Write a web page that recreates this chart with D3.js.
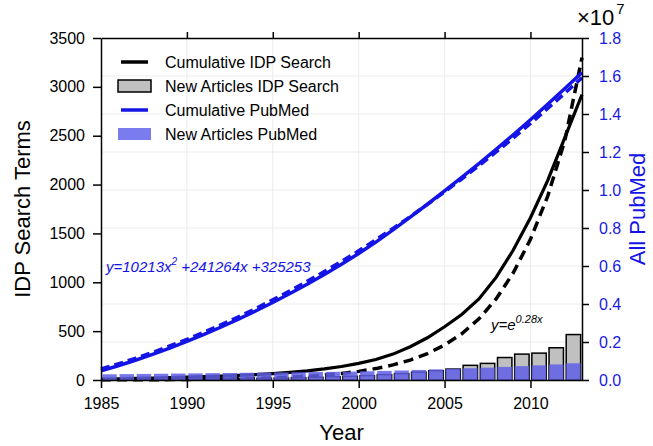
<!DOCTYPE html>
<html>
<head>
<meta charset="utf-8">
<script src="https://cdnjs.cloudflare.com/ajax/libs/d3/7.8.5/d3.min.js"></script>
<style>
  body { margin: 0; background: #fff; }
  svg { font-family: "Liberation Sans", Arial, sans-serif; }
  .grid line { stroke: #ececec; stroke-width: 1; }
  .axis path, .axis line { stroke: #000; stroke-width: 1.5; }
  .axis text { font-size: 16px; fill: #000; }
  .axis.right text { fill: #1a1ae6; }
</style>
</head>
<body>
<svg id="chart" width="653" height="446"></svg>
<script>
"use strict";

// yearly points of the cumulative curves
var years = [1985, 1986, 1987, 1988, 1989, 1990, 1991, 1992, 1993, 1994,
  1995, 1996, 1997, 1998, 1999, 2000, 2001, 2002, 2003, 2004,
  2005, 2006, 2007, 2008, 2009, 2010, 2011, 2012, 2013];
var idp_cumulative = [10, 13, 16, 20, 24, 29, 34, 40, 47, 55,
  65, 78, 94, 114, 138, 170, 210, 265, 340, 432,
  545, 670, 830, 1050, 1330, 1660, 2040, 2480, 2920];
var idp_fit = [1.3, 1.8, 2.3, 3.1, 4.1, 5.4, 7.1, 9.4, 12.4, 16.4,
  21.8, 28.8, 38.1, 50.4, 66.7, 88.2, 116.7, 154.5, 204, 270,
  358, 473, 626, 829, 1097, 1440, 1880, 2450, 3300];
// PubMed in units of 1e7
var pubmed_cumulative = [0.048, 0.075, 0.104, 0.135, 0.168, 0.203, 0.240, 0.279, 0.320, 0.363,
  0.408, 0.455, 0.504, 0.555, 0.609, 0.666, 0.726, 0.790, 0.857, 0.925,
  0.995, 1.066, 1.139, 1.214, 1.291, 1.370, 1.451, 1.534, 1.618];
var pubmed_fit = [0.058, 0.085, 0.114, 0.145, 0.179, 0.214, 0.252, 0.291, 0.332, 0.376,
  0.422, 0.469, 0.519, 0.571, 0.624, 0.680, 0.738, 0.798, 0.860, 0.924,
  0.990, 1.058, 1.128, 1.200, 1.274, 1.350, 1.429, 1.509, 1.591];

// new articles per year (bars)
var bar_years = [1985, 1986, 1987, 1988, 1989, 1990, 1991, 1992, 1993, 1994,
  1995, 1996, 1997, 1998, 1999, 2000, 2001, 2002, 2003, 2004,
  2005, 2006, 2007, 2008, 2009, 2010, 2011, 2012];
var idp_new = [5, 6, 7, 8, 9, 10, 12, 14, 16, 18,
  20, 24, 28, 33, 38, 45, 55, 65, 80, 95,
  112, 150, 170, 230, 265, 275, 330, 465];
var pubmed_new = [0.030, 0.031, 0.032, 0.033, 0.034, 0.035, 0.036, 0.037, 0.038, 0.039,
  0.040, 0.041, 0.042, 0.043, 0.044, 0.046, 0.048, 0.050, 0.053, 0.056,
  0.059, 0.062, 0.065, 0.069, 0.073, 0.077, 0.082, 0.088];

var x_ticks = [1985, 1990, 1995, 2000, 2005, 2010];
var left_ticks = [0, 500, 1000, 1500, 2000, 2500, 3000, 3500];
var right_ticks = [0, 0.2, 0.4, 0.6, 0.8, 1.0, 1.2, 1.4, 1.6, 1.8];

var BLUE = '#1414e6';
var BAR_BLUE = '#5f5fe6';

function draw_plot(svg) {
  var left = 101, right = 582, top = 38, bottom = 380;

  var X = d3.scaleLinear().domain([1985, 2013]).range([left, right]);
  var Y = d3.scaleLinear().domain([0, 3500]).range([bottom, top]);
  var Y2 = d3.scaleLinear().domain([0, 1.8]).range([bottom, top]);

  // grid
  var grid = svg.append('g').attr('class', 'grid');
  grid.selectAll('line.h').data(right_ticks.slice(1, -1)).enter().append('line')
    .attr('x1', left).attr('x2', right)
    .attr('y1', d => Y2(d)).attr('y2', d => Y2(d));
  grid.selectAll('line.v').data(x_ticks.slice(1)).enter().append('line')
    .attr('y1', top).attr('y2', bottom)
    .attr('x1', d => X(d)).attr('x2', d => X(d));

  var band = (X(1) - X(0)) * 0.84;

  // gray bars
  svg.append('g').selectAll('rect').data(bar_years).enter().append('rect')
    .attr('x', (d) => X(d + 0.5) - band / 2)
    .attr('width', band)
    .attr('y', (d, i) => Y(idp_new[i]))
    .attr('height', (d, i) => bottom - Y(idp_new[i]))
    .attr('fill', '#c0c0c0')
    .attr('stroke', '#000')
    .attr('stroke-width', 1.5);

  var line_left = function (vals) {
    return d3.line().x((d, i) => X(years[i])).y((d) => Y(d))(vals);
  };
  var line_right = function (vals) {
    return d3.line().x((d, i) => X(years[i])).y((d) => Y2(d))(vals);
  };

  svg.append('path').attr('d', line_left(idp_fit))
    .attr('fill', 'none').attr('stroke', '#000').attr('stroke-width', 3.5)
    .attr('stroke-dasharray', '10 6');
  svg.append('path').attr('d', line_left(idp_cumulative))
    .attr('fill', 'none').attr('stroke', '#000').attr('stroke-width', 3.2);

  // blue bars on top, a little see-through
  svg.append('g').selectAll('rect').data(bar_years).enter().append('rect')
    .attr('x', (d) => X(d + 0.5) - band / 2)
    .attr('width', band)
    .attr('y', (d, i) => Y2(pubmed_new[i]))
    .attr('height', (d, i) => bottom - Y2(pubmed_new[i]))
    .attr('fill', BAR_BLUE)
    .attr('fill-opacity', 0.85);

  svg.append('path').attr('d', line_right(pubmed_cumulative))
    .attr('fill', 'none').attr('stroke', BLUE).attr('stroke-width', 3.5);
  svg.append('path').attr('d', line_right(pubmed_fit))
    .attr('fill', 'none').attr('stroke', BLUE).attr('stroke-width', 3.5)
    .attr('stroke-dasharray', '9 5');

  // axes
  svg.append('g').attr('class', 'axis bottom')
    .attr('transform', 'translate(0,' + bottom + ')')
    .call(d3.axisBottom(X).tickValues(x_ticks).tickFormat(d3.format('d'))
      .tickSize(8).tickSizeOuter(0).tickPadding(10));
  svg.append('g').attr('class', 'axis top')
    .attr('transform', 'translate(0,' + top + ')')
    .call(d3.axisTop(X).tickValues(x_ticks.slice(1)).tickFormat('')
      .tickSize(6).tickSizeOuter(0));
  svg.append('g').attr('class', 'axis left')
    .attr('transform', 'translate(' + left + ',0)')
    .call(d3.axisLeft(Y).tickValues(left_ticks).tickFormat(d3.format('d'))
      .tickSize(8).tickSizeOuter(0).tickPadding(8));
  svg.append('g').attr('class', 'axis right')
    .attr('transform', 'translate(' + right + ',0)')
    .call(d3.axisRight(Y2).tickValues(right_ticks).tickFormat(d3.format('.1f'))
      .tickSize(7).tickSizeOuter(0).tickPadding(10));

  // axis titles
  svg.append('text').attr('x', (left + right) / 2).attr('y', 440)
    .attr('text-anchor', 'middle').attr('font-size', 22).text('Year');
  svg.append('text').attr('transform', 'translate(30,' + ((top + bottom) / 2) + ') rotate(-90)')
    .attr('text-anchor', 'middle').attr('font-size', 22).text('IDP Search Terms');
  svg.append('text').attr('transform', 'translate(645,' + ((top + bottom) / 2) + ') rotate(-90)')
    .attr('text-anchor', 'middle').attr('font-size', 22).attr('fill', BLUE).text('All PubMed');

  var mult = svg.append('text').attr('x', 577).attr('y', 25).attr('font-size', 22);
  mult.append('tspan').text('×10');
  mult.append('tspan').attr('font-size', 15).attr('dx', 2).attr('dy', -11).text('7');

  // equations
  var eq1 = svg.append('text').attr('x', 106).attr('y', 272)
    .attr('font-size', 15).attr('font-style', 'italic').attr('fill', BLUE);
  eq1.append('tspan').text('y=10213x');
  eq1.append('tspan').attr('font-size', 10).attr('dy', -7).text('2');
  eq1.append('tspan').attr('dy', 7).text(' +241264x +325253');

  var eq2 = svg.append('text').attr('x', 491).attr('y', 330)
    .attr('font-size', 15).attr('font-style', 'italic').attr('fill', '#000');
  eq2.append('tspan').text('y=e');
  eq2.append('tspan').attr('font-size', 11).attr('dy', -7).text('0.28x');

  // legend
  var lg = svg.append('g').attr('font-size', 16);
  var items = [
    { label: 'Cumulative IDP Search', kind: 'line', color: '#000', y: 62 },
    { label: 'New Articles IDP Search', kind: 'rect', color: '#c0c0c0', y: 86 },
    { label: 'Cumulative PubMed', kind: 'line', color: BLUE, y: 110 },
    { label: 'New Articles PubMed', kind: 'rect', color: '#7b7bf0', y: 134 }
  ];
  items.forEach(function (it, i) {
    if (it.kind === 'line') {
      lg.append('line').attr('x1', 121).attr('x2', 148).attr('y1', it.y).attr('y2', it.y)
        .attr('stroke', it.color).attr('stroke-width', 3.5);
    } else {
      lg.append('rect').attr('x', 118).attr('y', it.y - 6).attr('width', 33).attr('height', 12)
        .attr('fill', it.color)
        .attr('stroke', i === 1 ? '#000' : 'none').attr('stroke-width', 1.5);
    }
    lg.append('text').attr('x', 165).attr('y', it.y + 6).text(it.label);
  });
}

draw_plot(d3.select('#chart'));
</script>
</body>
</html>
